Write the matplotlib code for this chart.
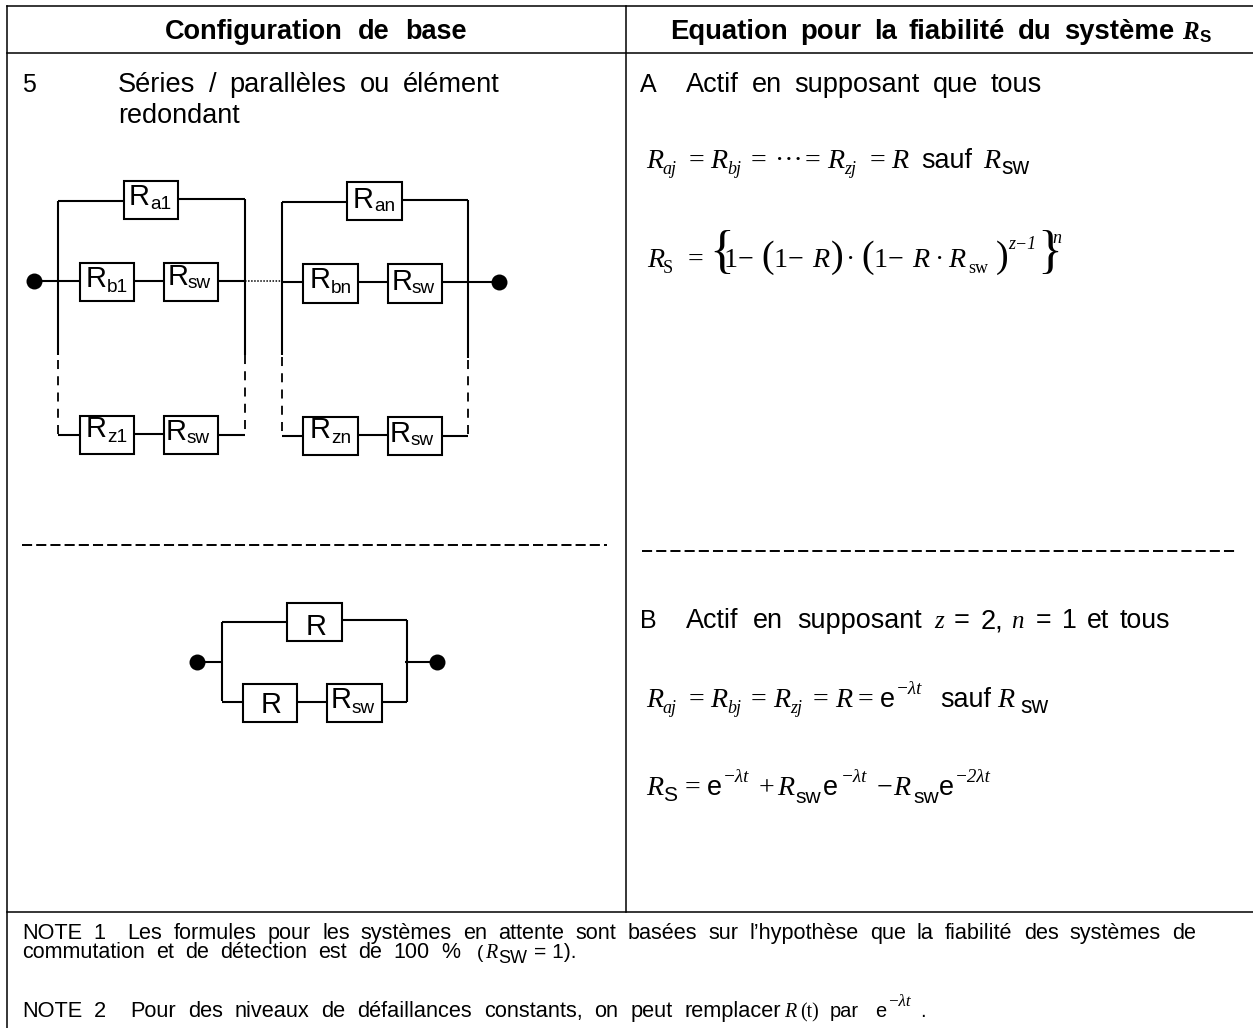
import matplotlib.pyplot as plt
from matplotlib.patches import Rectangle

plt.rcParams["font.family"] = "Liberation Sans"

# ----- texts -----
header_left = "Configuration de base"
header_right = "Equation pour la fiabilité du système"
series_no = "5"
series_lines = ["Séries / parallèles ou élément", "redondant"]
case_a = "Actif en supposant que tous"
case_b = ["Actif en supposant", "z", "= 2,", "n", "= 1 et tous"]
note_1 = ["NOTE 1  Les formules pour les systèmes en attente sont basées sur l’hypothèse que la fiabilité des systèmes de",
          "commutation et de détection est de 100 %"]
note_2 = "NOTE 2  Pour des niveaux de défaillances constants, on peut remplacer"

# label, subscript, box x0, x1, y0, y1, R x, R baseline, sub x, sub baseline
boxes_upper = [
    ("R", "a1", 124, 178, 181, 219, 129, 205, 150, 209),
    ("R", "b1", 80, 134, 263, 301, 86, 287, 107, 292),
    ("R", "sw", 164, 218, 263, 301, 168, 285, 188, 288),
    ("R", "z1", 80, 134, 416, 454, 86, 437, 107, 442),
    ("R", "sw", 164, 218, 416, 454, 166, 440, 187, 443),
    ("R", "an", 347, 402, 182, 220, 353, 208, 374, 211),
    ("R", "bn", 303, 358, 264, 303, 310, 288, 331, 293),
    ("R", "sw", 388, 442, 264, 303, 392, 290, 412, 293),
    ("R", "zn", 303, 358, 417, 455, 310, 438, 331, 443),
    ("R", "sw", 388, 442, 417, 455, 390, 442, 411, 445),
]
boxes_lower = [
    ("R", "", 287, 342, 603, 641, 306, 635, 0, 0),
    ("R", "", 243, 297, 684, 722, 261, 713, 0, 0),
    ("R", "sw", 327, 382, 684, 722, 331, 708, 352, 713),
]

wires_solid = [
    ((58, 58), (201, 355)), ((58, 124), (201, 201)), ((178, 245), (199, 199)), ((245, 245), (199, 355)),
    ((34, 80), (281, 281)), ((134, 164), (281, 281)), ((218, 245), (281, 281)),
    ((282, 282), (202, 355)), ((282, 347), (202, 202)), ((402, 468), (200, 200)), ((468, 468), (200, 358)),
    ((282, 303), (282, 282)), ((358, 388), (282, 282)), ((442, 499), (282, 282)),
    ((58, 80), (435, 435)), ((134, 164), (434, 434)), ((218, 245), (435, 435)),
    ((282, 303), (436, 436)), ((358, 388), (435, 435)), ((442, 468), (436, 436)),
    ((222, 222), (622, 701)), ((222, 287), (622, 622)), ((342, 407), (620, 620)), ((407, 407), (620, 702)),
    ((197, 222), (662, 662)), ((405, 437), (662, 662)),
    ((222, 243), (702, 702)), ((297, 327), (702, 702)), ((382, 407), (702, 702)),
]
wires_dashed = [
    ((58, 58), (360, 435)), ((245, 245), (355, 435)), ((282, 282), (357, 436)), ((468, 468), (360, 436)),
]
nodes = [(34, 281), (499, 282), (197, 662), (437, 662)]

# x, text, font kind, size in px, baseline
eq_a1 = [
    (646, "R", "ital", 28, 168), (662, "aj", "ital", 18, 174), (689, "=", "serif", 28, 168),
    (710, "R", "ital", 28, 168), (727, "bj", "ital", 18, 174), (751, "=", "serif", 28, 168),
    (775, "···", "serif", 28, 168), (805, "=", "serif", 28, 168),
    (827, "R", "ital", 28, 168), (844, "zj", "ital", 18, 174), (870, "=", "serif", 28, 168),
    (891, "R", "ital", 28, 168), (921, "sauf", "sans", 27, 168),
    (983, "R", "ital", 28, 168), (1001, "sw", "sans", 23, 174),
]
eq_a2 = [
    (647, "R", "ital", 28, 267), (663, "S", "serif", 18, 273), (688, "=", "serif", 28, 267),
    (723, "1", "serif", 28, 267), (738, "−", "serif", 28, 267),
    (773, "1", "serif", 28, 267), (788, "−", "serif", 28, 267), (812, "R", "ital", 28, 267),
    (846, "·", "serif", 28, 267),
    (873, "1", "serif", 28, 267), (888, "−", "serif", 28, 267), (912, "R", "ital", 28, 267),
    (935, "·", "serif", 28, 267), (948, "R", "ital", 28, 267), (968, "sw", "serif", 18, 273),
    (1008, "z−1", "ital", 18, 249), (1052, "n", "ital", 18, 243),
]
eq_a2_big = [
    (709, "{", 52, 267), (761, "(", 38, 267), (831, ")", 38, 267),
    (861, "(", 38, 267), (996, ")", 38, 267), (1037, "}", 52, 267),
]
eq_b1 = [
    (646, "R", "ital", 28, 707), (662, "aj", "ital", 18, 713), (689, "=", "serif", 28, 707),
    (710, "R", "ital", 28, 707), (727, "bj", "ital", 18, 713), (751, "=", "serif", 28, 707),
    (773, "R", "ital", 28, 707), (790, "zj", "ital", 18, 713), (813, "=", "serif", 28, 707),
    (835, "R", "ital", 28, 707), (858, "=", "serif", 28, 707), (880, "e", "sans", 27, 707),
    (896, "−λt", "ital", 19, 694), (940, "sauf", "sans", 27, 707),
    (997, "R", "ital", 28, 707), (1020, "sw", "sans", 23, 713),
]
eq_b2 = [
    (646, "R", "ital", 28, 795), (663, "S", "sans", 21, 801), (685, "=", "serif", 28, 795),
    (707, "e", "sans", 27, 795), (723, "−λt", "ital", 19, 782),
    (759, "+", "serif", 28, 795), (777, "R", "ital", 28, 795), (795, "sw", "sans", 21, 803),
    (823, "e", "sans", 27, 795), (841, "−λt", "ital", 19, 782),
    (877, "−", "serif", 28, 795), (893, "R", "ital", 28, 795), (913, "sw", "sans", 21, 803),
    (939, "e", "sans", 27, 795), (955, "−2λt", "ital", 19, 782),
]
note_parts = [
    (477, "(", "sans", 19, 958), (485, "R", "ital", 20, 958), (498, "SW", "sans", 18, 963),
    (534, "= 1).", "sans", 21, 958),
    (784, "R", "ital", 20, 1017), (800, "(t)", "serif", 20, 1017), (830, "par", "sans", 20, 1017),
    (875, "e", "sans", 20, 1017), (887, "−λt", "ital", 17, 1006), (920, ".", "sans", 20, 1017),
]

dash_left = (22, 607, 545)
dash_right = (642, 1237, 551)

fig = plt.figure(figsize=(12.53, 10.28), dpi=100, facecolor="w")
ax = fig.add_axes([0, 0, 1, 1])
ax.set_xlim(0, 1253)
ax.set_ylim(1028, 0)
ax.axis("off")
renderer = fig.canvas.get_renderer()

fonts = {
    "sans": {"family": "Liberation Sans"},
    "serif": {"family": "Liberation Serif"},
    "ital": {"family": "Liberation Serif", "style": "italic"},
}


def put(x, text, kind, px, y, **kw):
    return ax.text(x, y, text, fontsize=px * 0.72, va="baseline", ha="left", color="k", **fonts[kind], **kw)


def spread(x0, x1, y, text, px, shrink=0.94, **kw):
    # the original is letterspaced: size the line close to its span, share what is left between the words
    t = put(x0, text, "sans", px, y, **kw)
    size = px * (x1 - x0) / t.get_window_extent(renderer).width * shrink
    t.remove()
    words = text.split(" ")
    parts = [put(x0, w, "sans", size, y, **kw) if w else None for w in words]
    widths = [p.get_window_extent(renderer).width if p else 0 for p in parts]
    if len(words) == 1:
        parts[0].set_x(x0 + (x1 - x0 - widths[0]) / 2)
        return
    gap = (x1 - x0 - sum(widths)) / (len(words) - 1)
    x = x0
    for p, w in zip(parts, widths):
        if p:
            p.set_x(x)
        x += w + gap


# table rules
lw = 1.1
ax.plot([7, 7], [6, 1028], "k", lw=lw)
ax.plot([7, 1253], [6, 6], "k", lw=lw)
ax.plot([7, 1253], [53, 53], "k", lw=lw)
ax.plot([7, 1253], [912, 912], "k", lw=lw)
ax.plot([626, 626], [6, 912], "k", lw=lw)

# headers
spread(165, 467, 39, header_left, 24, shrink=0.95, weight="bold")
spread(670, 1174, 39, header_right, 24, shrink=0.95, weight="bold")
put(1182, "R", "ital", 25, 39, weight="bold")
put(1200, "S", "sans", 17, 42, weight="bold")

# left column text
put(22, series_no, "sans", 25, 92)
spread(118, 500, 92, series_lines[0], 25)
put(118, series_lines[1], "sans", 27, 123)

# right column text
put(640, "A", "sans", 25, 92)
spread(686, 1042, 92, case_a, 25)
put(640, "B", "sans", 25, 628)
spread(686, 922, 628, case_b[0], 25)
put(934, case_b[1], "ital", 25, 628)
spread(954, 1003, 628, case_b[2], 25)
put(1011, case_b[3], "ital", 25, 628)
spread(1036, 1170, 628, case_b[4], 25)

# circuits
for xs, ys in wires_solid:
    ax.plot(xs, ys, "k", lw=1.5, solid_capstyle="butt")
for xs, ys in wires_dashed:
    ax.plot(xs, ys, "k", lw=1.3, dashes=(5, 4))
ax.plot([245, 282], [281, 281], "k", lw=1.1, dashes=(1, 1))
for x, y in nodes:
    ax.plot(x, y, "o", color="k", ms=11.5, mew=0)
for label, sub, x0, x1, y0, y1, rx, ry, sx, sy in boxes_upper + boxes_lower:
    ax.add_patch(Rectangle((x0, y0), x1 - x0, y1 - y0, fc="w", ec="k", lw=1.5, zorder=3))
    ax.text(rx, ry, label, fontsize=29 * 0.72, va="baseline", zorder=4)
    if sub:
        ax.text(sx, sy, sub, fontsize=19 * 0.72, va="baseline", zorder=4)

# separators
ax.plot(dash_left[:2], [dash_left[2]] * 2, "k", lw=1.4, dashes=(5.2, 2.1))
ax.plot(dash_right[:2], [dash_right[2]] * 2, "k", lw=1.4, dashes=(5.2, 2.1))

# equations
for part in eq_a1 + eq_a2 + eq_b1 + eq_b2 + note_parts:
    put(*part)
for x, s, px, y in eq_a2_big:
    put(x, s, "serif", px, y)

# notes
spread(22, 1196, 939, note_1[0], 18, shrink=0.92)
spread(22, 460, 958, note_1[1], 18, shrink=0.92)
spread(22, 781, 1017, note_2, 18, shrink=0.92)

fig.savefig("out.png", dpi=100)
